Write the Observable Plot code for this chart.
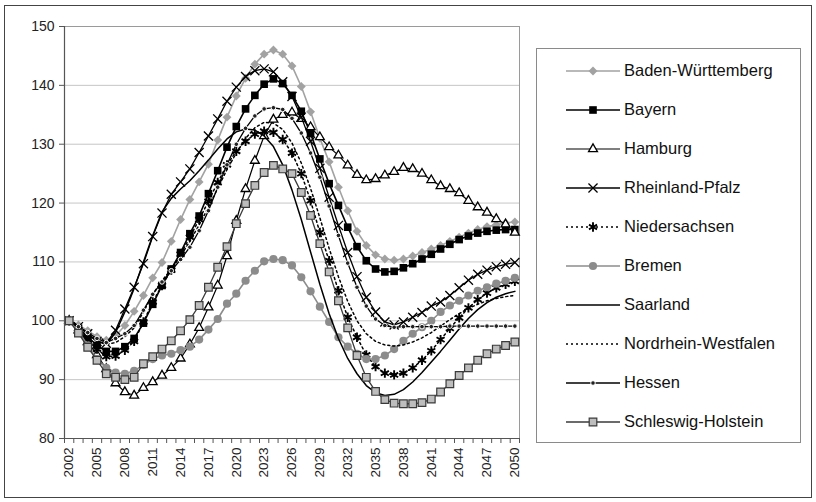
<!DOCTYPE html>
<html><head><meta charset="utf-8">
<script src="https://cdn.jsdelivr.net/npm/d3@7"></script>
<script src="https://cdn.jsdelivr.net/npm/@observablehq/plot@0.6"></script>
<style>
body{margin:0;background:#fff;font-family:"Liberation Sans",Arial,sans-serif;}
#wrap{position:relative;width:816px;height:502px;overflow:hidden;background:#fff;}
#border{position:absolute;left:4px;top:5px;width:806px;height:491px;border:1px solid #444;pointer-events:none;}
#legend{position:absolute;left:536px;top:48px;width:265px;height:395px;border:1px solid #8a8a8a;box-sizing:border-box;background:#fff;}
.row{position:absolute;left:0;height:20px;display:flex;align-items:center;white-space:nowrap;}
.row svg{margin-left:28px;}
.row span{font-size:16.5px;color:#111;margin-left:3px;}
</style></head>
<body><div id="wrap"><div id="border"></div><div id="legend"></div></div>
<script>
// Categories
const years = d3.range(2002, 2051);
const labelYears = [2002,2005,2008,2011,2014,2017,2020,2023,2026,2029,2032,2035,2038,2041,2044,2047,2050];
const yTicks = [80,90,100,110,120,130,140,150];
const names = ["Baden-Württemberg","Bayern","Hamburg","Rheinland-Pfalz","Niedersachsen","Bremen","Saarland","Nordrhein-Westfalen","Hessen","Schleswig-Holstein"];

// Series values (2002..2050)
const bw  = [100,99.3,98.3,97.3,96.7,97.4,99.2,101.6,104.3,107.3,
             109.9,113.5,117.2,120.6,123.6,126.6,130.7,134.6,138.2,141.2,
             143.6,145.3,146,145.3,143.3,139.8,135.5,131,127,122.7,
             118.7,115.2,112.8,111.2,110.5,110.3,110.5,111,111.6,112.2,
             112.8,113.5,114.2,114.9,115.5,116,116.3,116.6,116.8];
const by  = [100,98.7,97.3,95.8,94.8,94.8,95.6,97,99.6,102.8,
             106,108.8,111.6,114.8,117.8,121.6,125.5,129.5,133,136,
             138.3,140.2,141.1,140.3,138.3,135.6,131.8,127.5,123.3,119.6,
             115.9,112.6,110.2,108.8,108.3,108.4,109,109.7,110.5,111.3,
             112.2,113,113.8,114.4,114.9,115.2,115.4,115.5,115.5];
const hh  = [100,98.4,96.4,94.2,91.8,89.4,87.9,87.3,88.6,89.6,
             90.7,92,93.6,96,98.8,102.3,106,111,117,122.4,
             127.2,131.4,134.2,135,135.4,134.3,132.9,131.2,129.5,128.1,
             126.4,124.8,123.9,124.1,124.7,125.3,126,125.8,125,123.9,
             122.9,122.4,121.7,120.4,119.3,118.4,117.3,116.4,115];
const rp  = [100,99,97.8,96.5,96.2,98.4,102,105.7,109.7,114.3,
             118.3,121.5,123.6,125.8,128.6,131.4,134.3,137.3,139.7,141.5,
             142.5,142.8,142.3,140.6,138.1,134.6,130.5,125.9,121,116.2,
             111.6,107.5,104,101.5,99.8,99.3,99.8,100.6,101.4,102.5,
             103.2,104.3,105.6,106.9,107.9,108.6,109.2,109.6,109.9];
const ns  = [100,98.5,96.8,95.2,93.9,94,95,96.5,99.8,103.2,
             106,108.6,111.3,114.2,117.2,120.3,123.5,126.5,128.8,130.5,
             131.7,132.2,132,130.8,128.5,125,120.4,115,110.2,105.1,
             100.6,97.2,94.2,92.2,91.1,90.8,91.1,92,93.3,94.9,
             96.8,98.7,100.5,102.2,103.6,104.7,105.6,106.2,106.7];
const hb  = [100,98.2,95.8,93.5,92,91.2,91,91.5,92.5,93.5,
             94.1,94.4,95,95.6,96.8,98.5,100.3,102.9,104.6,106.8,
             108.5,110.1,110.5,110.3,109.4,107.4,105,102.4,99.8,97.2,
             95.6,94.4,93.5,93.5,94.1,95.2,96.6,97.8,98.9,100,
             101.5,102.6,103.4,104.3,105.1,105.7,106.3,106.8,107.3];
const sl  = [100,99,97.8,96.5,96,98,101.5,105.5,110,114.5,
             118.5,120.8,122.4,123.8,125.5,127.3,129.2,130.9,132.1,132.6,
             132.4,131.4,129.6,126.5,122.2,117.2,111.7,106.2,101.2,97,
             93.6,91,89,87.8,87.3,87.5,88.3,89.6,91.2,93,
             94.8,96.7,98.6,100.4,101.9,103.1,104,104.6,105];
const nrw = [100,99,97.8,96.6,96,96.3,97.3,98.8,101.5,104.5,
             106.8,108.8,111,113.5,116.3,119.3,122.5,125.7,128.5,131,
             132.8,133.7,133.6,132.5,130.2,126.8,122.5,117.5,112.3,107.5,
             103.3,100,97.8,96.5,95.9,95.7,95.9,96.4,97.1,98,
             99.1,100.2,101.2,102.1,102.8,103.4,103.8,104.1,104.3];
const he  = [100,99,98,97,96.3,97,97.8,99.2,101.8,104.5,
             106.6,108.5,110.4,112.5,115.3,118.7,122.7,126.5,130,132.7,
             134.8,136,136.2,135.9,134.4,131.9,128.5,124.4,119.5,114.5,
             109.8,105.7,102.5,100.3,99.2,98.9,99,99,99,99,
             99,99.1,99.1,99.1,99.1,99.1,99.1,99.1,99.1];
const sh  = [100,97.9,95.5,93.3,91,90.4,90,90.4,92.7,93.9,
             95.2,96.6,98.3,100.2,102.6,105.7,109.1,112.6,116.5,119.9,
             123,125.2,126.4,125.8,125,121.8,117.9,113.1,108.3,103.4,
             98.8,94.1,90.4,88,86.6,86,85.9,85.9,86.1,86.7,
             87.9,89.3,90.7,92,93.3,94.4,95.2,95.8,96.4];
const seriesValues = [bw, by, hh, rp, ns, hb, sl, nrw, he, sh];

// Styles (not data)
const styles = [
  {stroke:"#a2a2a2", w:1.6, symbol:"diamond2", r:4, fill:"#a2a2a2", ms:"none", mw:0},
  {stroke:"#000", w:1.6, symbol:"square", r:4.3, fill:"#000", ms:"none", mw:0},
  {stroke:"#000", w:1.2, symbol:"triangle", r:3.3, fill:"#fff", ms:"#000", mw:1.3},
  {stroke:"#000", w:1.3, symbol:"times", r:4.2, fill:"none", ms:"#000", mw:1.3},
  {stroke:"#000", w:1.5, dash:"2,3", symbol:"asterisk", r:4.4, fill:"none", ms:"#000", mw:1.9},
  {stroke:"#8c8c8c", w:1.6, symbol:"circle", r:4.1, fill:"#8c8c8c", ms:"none", mw:0},
  {stroke:"#000", w:1.5},
  {stroke:"#000", w:1.5, dash:"2,3"},
  {stroke:"#000", w:1.3, symbol:"circle", r:2.3, fill:"#222", ms:"#fff", mw:1},
  {stroke:"#3a3a3a", w:1.3, symbol:"square", r:4.3, fill:"#bdbdbd", ms:"#3a3a3a", mw:1.2}
];

const table = names.flatMap((n, i) => years.map((yr, j) => ({name: n, year: yr, value: seriesValues[i][j]})));

const seriesMarks = [];
names.forEach((n, i) => {
  const st = styles[i];
  const data = table.filter(d => d.name === n);
  seriesMarks.push(Plot.line(data, {x: "year", y: "value", stroke: st.stroke, strokeWidth: st.w, strokeDasharray: st.dash || null}));
  if (st.symbol) {
    seriesMarks.push(Plot.dot(data, {x: "year", y: "value", symbol: st.symbol, r: st.r, fill: st.fill, stroke: st.ms, strokeWidth: st.mw}));
  }
});

const boundaries = d3.range(2001.5, 2051, 1);

const chart = Plot.plot({
  width: 816, height: 502,
  marginLeft: 64, marginRight: 297, marginTop: 26, marginBottom: 64,
  x: {domain: [2001.5, 2050.5]},
  y: {domain: [80, 150]},
  style: {fontFamily: "'Liberation Sans', Arial, sans-serif", fontSize: "14px", color: "#222", background: "transparent", overflow: "visible"},
  marks: [
    Plot.gridY(yTicks, {stroke: "#c6c6c6", strokeOpacity: 1, strokeWidth: 1}),
    Plot.frame({stroke: "#9a9a9a"}),
    ...seriesMarks,
    Plot.ruleX([2001.5], {stroke: "#555", strokeWidth: 1.2}),
    Plot.ruleY([80], {stroke: "#555", strokeWidth: 1.2}),
    Plot.axisY(yTicks, {tickSize: 5, tickPadding: 5, fontSize: 14, label: null, stroke: "#555"}),
    Plot.axisX(boundaries, {tickSize: 5, tickFormat: () => "", label: null, stroke: "#555"}),
    Plot.axisX(labelYears, {tickSize: 0, tickPadding: 9, tickRotate: -90, tickFormat: d3.format("d"), fontSize: 13.5, label: null})
  ]
});
chart.style.position = "absolute";
chart.style.left = "0px";
chart.style.top = "0px";
document.getElementById("wrap").insertBefore(chart, document.getElementById("legend"));

// Legend
const symMap = {diamond2: d3.symbolDiamond2, square: d3.symbolSquare, triangle: d3.symbolTriangle, times: d3.symbolTimes, asterisk: d3.symbolAsterisk, circle: d3.symbolCircle};
const legend = document.getElementById("legend");
names.forEach((n, i) => {
  const st = styles[i];
  const row = document.createElement("div");
  row.className = "row";
  row.style.top = (11.5 + i * 39) + "px";
  const svg = d3.create("svg").attr("width", 56).attr("height", 20);
  svg.append("line").attr("x1", 1).attr("x2", 55).attr("y1", 10).attr("y2", 10)
    .attr("stroke", st.stroke).attr("stroke-width", st.w).attr("stroke-dasharray", st.dash || null);
  if (st.symbol) {
    svg.append("path").attr("transform", "translate(28,10)")
      .attr("d", d3.symbol(symMap[st.symbol], Math.PI * st.r * st.r)())
      .attr("fill", st.fill).attr("stroke", st.ms).attr("stroke-width", st.mw);
  }
  row.appendChild(svg.node());
  const span = document.createElement("span");
  span.textContent = n;
  row.appendChild(span);
  legend.appendChild(row);
});
</script>
</body></html>
